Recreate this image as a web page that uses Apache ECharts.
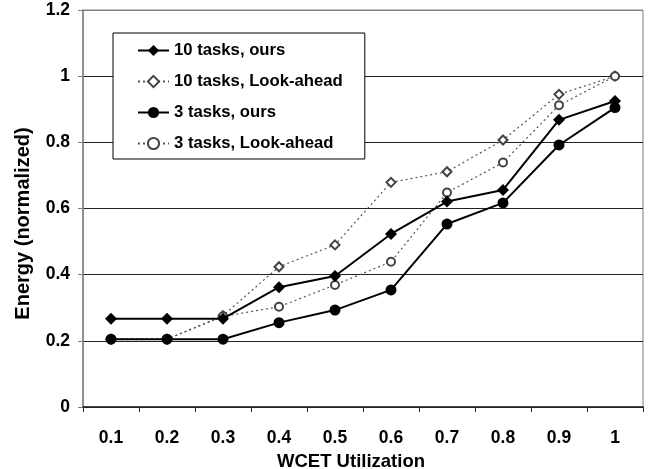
<!DOCTYPE html>
<html>
<head>
<meta charset="utf-8">
<script src="https://cdn.jsdelivr.net/npm/echarts@6/dist/echarts.min.js"></script>
<style>
  html, body { margin: 0; padding: 0; background: #fff; }
  #chart { width: 651px; height: 469px; }
</style>
</head>
<body>
<div id="chart"></div>
<script>
// WCET utilization levels on the x axis
const utilization = ['0.1', '0.2', '0.3', '0.4', '0.5', '0.6', '0.7', '0.8', '0.9', '1'];

// Normalized energy per scheme
const tasks10Ours      = [0.267, 0.267, 0.267, 0.362, 0.396, 0.523, 0.621, 0.656, 0.868, 0.925];
const tasks10LookAhead = [0.205, 0.205, 0.276, 0.424, 0.490, 0.679, 0.711, 0.807, 0.945, 1.000];
const tasks3Ours       = [0.205, 0.205, 0.205, 0.255, 0.293, 0.354, 0.553, 0.617, 0.792, 0.905];
const tasks3LookAhead  = [0.205, 0.205, 0.274, 0.303, 0.369, 0.439, 0.648, 0.739, 0.912, 1.000];

const seriesNames = ['10 tasks, ours', '10 tasks, Look-ahead', '3 tasks, ours', '3 tasks, Look-ahead'];

const FONT = '"Liberation Sans", Arial, sans-serif';

const chart = echarts.init(document.getElementById('chart'), null, { renderer: 'canvas' });

const solidLine = { color: '#000', width: 2, type: 'solid' };
const dottedLine = { color: '#555', width: 1.2, type: [2, 3] };

chart.setOption({
  animation: false,
  backgroundColor: '#fff',
  grid: {
    left: 83, right: 8, top: 10, bottom: 62,
    outerBoundsMode: 'none',
    containLabel: false,
    show: true, borderColor: '#808080', borderWidth: 1, backgroundColor: 'transparent'
  },
  legend: {
    data: seriesNames,
    orient: 'vertical',
    left: 113, top: 33,
    padding: [9, 22, 7, 24],
    itemWidth: 31, itemHeight: 14, itemGap: 14,
    backgroundColor: '#fff',
    borderColor: '#000', borderWidth: 1, borderRadius: 0,
    textStyle: { fontFamily: FONT, fontWeight: 'bold', fontSize: 16.7, color: '#000' },
    z: 10
  },
  xAxis: {
    type: 'category',
    data: utilization,
    boundaryGap: true,
    name: 'WCET Utilization',
    nameLocation: 'middle',
    nameGap: 45,
    nameTextStyle: { fontFamily: FONT, fontWeight: 'bold', fontSize: 18.5, color: '#000', padding: [0, 24, 0, 0] },
    axisLine: { lineStyle: { color: '#222', width: 1.5 } },
    axisTick: { show: true, length: 5, inside: false, lineStyle: { color: '#222' } },
    axisLabel: { fontFamily: FONT, fontWeight: 'bold', fontSize: 17.5, color: '#000', margin: 22 },
    splitLine: { show: false }
  },
  yAxis: {
    type: 'value',
    min: 0, max: 1.2, interval: 0.2,
    name: 'Energy (normalized)',
    nameLocation: 'middle',
    nameGap: 50,
    nameTextStyle: { fontFamily: FONT, fontWeight: 'bold', fontSize: 20, color: '#000', padding: [0, 30, 0, 0] },
    axisLine: { show: true, lineStyle: { color: '#808080', width: 1.5 } },
    axisTick: { show: true, length: 5, lineStyle: { color: '#808080' } },
    axisLabel: { fontFamily: FONT, fontWeight: 'bold', fontSize: 17.5, color: '#000', margin: 13 },
    splitLine: {
      show: true,
      lineStyle: { color: ['#222', '#222', '#222', '#222', '#222', '#222', '#808080'], width: 1 }
    }
  },
  series: [
    {
      name: seriesNames[0], type: 'line', data: tasks10Ours, z: 4,
      symbol: 'diamond', symbolSize: 12,
      itemStyle: { color: '#000' }, lineStyle: solidLine
    },
    {
      name: seriesNames[1], type: 'line', data: tasks10LookAhead, z: 2,
      symbol: 'emptyDiamond', symbolSize: 9,
      itemStyle: { color: '#444', borderWidth: 1 }, lineStyle: dottedLine
    },
    {
      name: seriesNames[2], type: 'line', data: tasks3Ours, z: 4,
      symbol: 'circle', symbolSize: 11,
      itemStyle: { color: '#000' }, lineStyle: solidLine
    },
    {
      name: seriesNames[3], type: 'line', data: tasks3LookAhead, z: 2,
      symbol: 'emptyCircle', symbolSize: 8,
      itemStyle: { color: '#444', borderWidth: 1 }, lineStyle: dottedLine
    }
  ]
});
</script>
</body>
</html>
